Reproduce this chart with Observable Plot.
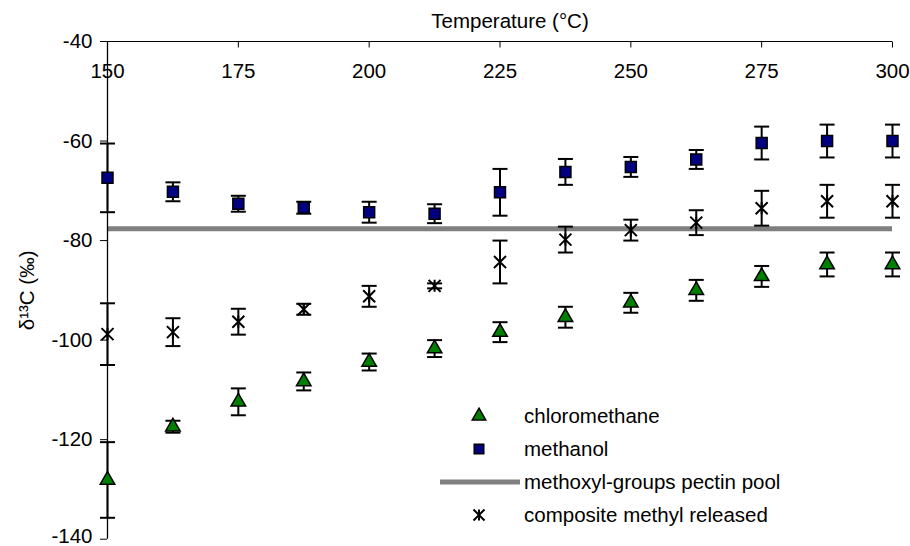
<!DOCTYPE html>
<html>
<head>
<meta charset="utf-8">
<script src="https://cdn.jsdelivr.net/npm/d3@7"></script>
<script src="https://cdn.jsdelivr.net/npm/@observablehq/plot@0.6"></script>
<style>
  body { margin: 0; background: white; }
  #wrap { position: relative; width: 910px; height: 546px; }
  #legend { position: absolute; left: 0; top: 0; pointer-events: none; }
</style>
</head>
<body>
<div id="wrap"></div>
<script>
const temps = [150, 162.5, 175, 187.5, 200, 212.5, 225, 237.5, 250, 262.5, 275, 287.5, 300];
const chloroMean = [-128.1, -117.4, -112.4, -108.3, -104.4, -101.7, -98.4, -95.4, -92.5, -90.0, -87.2, -84.8, -84.8];
const chloroErr  = [7.6, 1.2, 2.7, 1.8, 1.7, 1.7, 2.0, 2.1, 2.0, 2.1, 2.1, 2.4, 2.4];
const methMean   = [-67.4, -70.2, -72.6, -73.4, -74.3, -74.6, -70.3, -66.2, -65.2, -63.7, -60.4, -60.0, -60.0];
const methErr    = [6.9, 1.9, 1.6, 1.2, 2.1, 1.9, 4.7, 2.6, 2.0, 1.9, 3.3, 3.3, 3.3];
const compMean   = [-98.8, -98.4, -96.3, -93.8, -91.2, -89.1, -84.3, -79.8, -77.9, -76.4, -73.5, -72.1, -72.1];
const compErr    = [6.2, 2.8, 2.6, 1.1, 2.1, 0.5, 4.3, 2.6, 2.1, 2.5, 3.5, 3.3, 3.3];
const poolValue = -77.6;
const seriesNames = ["chloromethane", "methanol", "methoxyl-groups pectin pool", "composite methyl released"];
const xTicks = [150, 175, 200, 225, 250, 275, 300];
const yTicks = [-140, -120, -100, -80, -60, -40];

const rowsFor = (name, means, errs) => temps.map((t, i) => ({series: name, t, mean: means[i], err: errs[i]}));
const chloro = rowsFor(seriesNames[0], chloroMean, chloroErr);
const meth = rowsFor(seriesNames[1], methMean, methErr);
const comp = rowsFor(seriesNames[3], compMean, compErr);
const all = [...chloro, ...meth, ...comp];
const caps = all.flatMap(d => [{t: d.t, y: d.mean - d.err}, {t: d.t, y: d.mean + d.err}]);

const capSymbol = {draw(ctx, size) { const r = Math.sqrt(size / Math.PI); ctx.moveTo(-r, 0); ctx.lineTo(r, 0); }};
const tickDown = {draw(ctx, size) { const r = Math.sqrt(size / Math.PI); ctx.moveTo(0, 0); ctx.lineTo(0, r); }};
const starSymbol = {draw(ctx, size) { const r = Math.sqrt(size / Math.PI);
  ctx.moveTo(-r, -r); ctx.lineTo(r, r); ctx.moveTo(-r, r); ctx.lineTo(r, -r);
  ctx.moveTo(0, -r); ctx.lineTo(0, r); }};

const font = "Liberation Sans, Arial, sans-serif";
const fs = 20.5;
const yMin = d3.min(yTicks);

const chart = Plot.plot({
  width: 910,
  height: 546,
  marginLeft: 107,
  marginRight: 18,
  marginTop: 41,
  marginBottom: 7.3,
  style: {fontFamily: font, fontSize: fs + "px", background: "white", color: "black", overflow: "visible"},
  x: {domain: [150, 300], axis: null},
  y: {domain: [-140, -40], axis: null},
  marks: [
    Plot.ruleY([poolValue], {x1: d3.min(temps), x2: d3.max(temps), stroke: "#808080", strokeWidth: 5}),
    Plot.ruleY([-40], {stroke: "black", strokeWidth: 1}),
    Plot.ruleX([150], {stroke: "black", strokeWidth: 1.3}),
    Plot.dot(xTicks, {x: d => d, frameAnchor: "top", symbol: tickDown, r: 6, fill: "none", stroke: "black", strokeWidth: 1}),
    Plot.text(xTicks, {x: d => d, text: d => String(d), frameAnchor: "top", dy: 30, lineAnchor: "middle", fontSize: fs, fill: "black"}),
    Plot.text(["Temperature (°C)"], {frameAnchor: "top", dy: -20, dx: 10, lineAnchor: "middle", fontSize: fs, fill: "black"}),
    Plot.axisY({anchor: "left", ticks: yTicks, tickSize: 7, tickFormat: () => "", label: null, stroke: "black"}),
    Plot.text(yTicks.filter(d => d !== yMin), {y: d => d, text: d => String(d), frameAnchor: "left", dx: -15, textAnchor: "end", lineAnchor: "middle", fontSize: fs, fill: "black"}),
    Plot.text([yMin], {y: d => d, text: d => String(d), frameAnchor: "left", dx: -15, dy: -3, textAnchor: "end", lineAnchor: "middle", fontSize: fs, fill: "black"}),
    Plot.text(["δ¹³C (‰)"], {frameAnchor: "left", dx: -80, rotate: -90, textAnchor: "middle", lineAnchor: "middle", fontSize: fs, fill: "black"}),
    Plot.ruleX(all, {x: "t", y1: d => d.mean - d.err, y2: d => d.mean + d.err, stroke: "black", strokeWidth: 2}),
    Plot.dot(caps, {x: "t", y: "y", symbol: capSymbol, r: 7.5, fill: "none", stroke: "black", strokeWidth: 2}),
    Plot.dot(comp, {x: "t", y: "mean", symbol: starSymbol, r: 6, fill: "none", stroke: "black", strokeWidth: 2}),
    Plot.dot(meth, {x: "t", y: "mean", symbol: "square", r: 6.2, fill: "#000080", stroke: "black", strokeWidth: 1.5}),
    Plot.dot(chloro, {x: "t", y: "mean", symbol: "triangle", r: 5.4, fill: "#008000", stroke: "black", strokeWidth: 1.5})
  ]
});

const wrap = document.getElementById("wrap");
wrap.appendChild(chart);

// legend overlay
const leg = d3.select(wrap).append("svg").attr("id", "legend").attr("width", 910).attr("height", 546)
  .style("font-family", font).style("font-size", fs + "px");
const items = [
  {name: seriesNames[0], kind: "tri"},
  {name: seriesNames[1], kind: "sq"},
  {name: seriesNames[2], kind: "line"},
  {name: seriesNames[3], kind: "star"}
];
const lx = 479, ly = 416, step = 33, tx = 524;
items.forEach((it, i) => {
  const y = ly + i * step;
  if (it.kind === "tri") leg.append("path").attr("transform", `translate(${lx},${y})`).attr("d", d3.symbol(d3.symbolTriangle, 5 * 5 * Math.PI)()).attr("fill", "#008000").attr("stroke", "black").attr("stroke-width", 1.5);
  if (it.kind === "sq") leg.append("path").attr("transform", `translate(${lx},${y})`).attr("d", d3.symbol(d3.symbolSquare, 5.4 * 5.4 * Math.PI)()).attr("fill", "#000080").attr("stroke", "black").attr("stroke-width", 1.5);
  if (it.kind === "line") leg.append("line").attr("x1", 440).attr("x2", 520).attr("y1", y).attr("y2", y).attr("stroke", "#808080").attr("stroke-width", 5);
  if (it.kind === "star") leg.append("path").attr("transform", `translate(${lx},${y})`).attr("d", d3.symbol(starSymbol, 5.5 * 5.5 * Math.PI)()).attr("fill", "none").attr("stroke", "black").attr("stroke-width", 2);
  leg.append("text").attr("x", tx).attr("y", y).attr("dy", "0.35em").text(it.name);
});
</script>
</body>
</html>
